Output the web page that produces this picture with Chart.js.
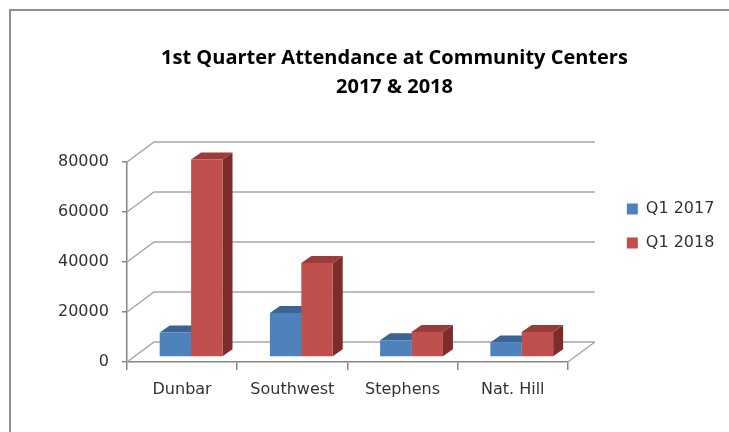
<!DOCTYPE html>
<html>
<head>
<meta charset="utf-8">
<script src="https://cdn.jsdelivr.net/npm/chart.js@4.4.1/dist/chart.umd.min.js"></script>
<style>
  html, body { margin: 0; padding: 0; background: #fff; overflow: hidden; }
  #wrap { position: relative; width: 729px; height: 432px; }
  #frame { position: absolute; left: 9px; top: 9px; width: 800px; height: 500px;
           border-top: 2px solid #8f8f8f; border-left: 2px solid #8f8f8f; }
  #c { position: absolute; left: 0; top: 0; }
</style>
</head>
<body>
<div id="wrap">
  <div id="frame"></div>
  <canvas id="c" width="729" height="432"></canvas>
</div>
<script>
(() => {
  'use strict';

  // === Datos ===
  const centers = ['Dunbar', 'Southwest', 'Stephens', 'Nat. Hill'];
  const q1_2017 = [9800, 17600, 6700, 5800];
  const q1_2018 = [79000, 37600, 10000, 10000];
  const seriesNames = ['Q1 2017', 'Q1 2018'];
  const titleLines = ['1st Quarter Attendance at Community Centers', '2017 & 2018'];
  const yMax = 80000, yStep = 20000;

  // colores (frente / tapa / lado)
  const FRONT = ['#4f81bd', '#c0504d'];
  const TOP   = ['#3b6494', '#9a3c39'];
  const SIDE  = ['#30527c', '#7c2d2b'];

  // efecto 3D (desplazamientos en px)
  const WALL  = { x: 27, y: -20 };   // pared del fondo
  const SHIFT = { x: 9,  y: -5 };    // plano de las barras
  const DEPTH = { x: 10, y: -7 };    // profundidad de cada barra
  const GRID  = '#a6a6a6';
  const AXIS  = '#868686';
  const TXT   = '#333333';
  const FONT  = { family: 'DejaVu Sans', size: 16 };

  const poly = (ctx, pts, fill) => {
    ctx.beginPath();
    ctx.moveTo(pts[0][0], pts[0][1]);
    for (let i = 1; i < pts.length; i++) ctx.lineTo(pts[i][0], pts[i][1]);
    ctx.closePath();
    ctx.fillStyle = fill;
    ctx.fill();
  };

  const fake3d = {
    id: 'fake3d',
    beforeDatasetsDraw(chart){
      const { ctx, chartArea: a } = chart;
      const y = chart.scales.y;

      // paredes: izquierda + fondo + piso
      ctx.save();
      ctx.strokeStyle = GRID;
      ctx.lineWidth = 1.5;
      ctx.beginPath();
      y.ticks.forEach(t => {
        const py = y.getPixelForValue(t.value);
        ctx.moveTo(a.left, py);
        ctx.lineTo(a.left + WALL.x, py + WALL.y);
        ctx.lineTo(a.right + WALL.x, py + WALL.y);
      });
      ctx.moveTo(a.right, a.bottom);
      ctx.lineTo(a.right + WALL.x, a.bottom + WALL.y);
      ctx.stroke();
      ctx.restore();

      // caras laterales y tapas; el frente lo dibuja Chart.js
      ctx.save();
      ctx.translate(SHIFT.x, SHIFT.y);
      chart.data.datasets.forEach((ds, i) => {
        const meta = chart.getDatasetMeta(i);
        meta.data.forEach(bar => {
          const { x, y: top, base, width } = bar.getProps(['x', 'y', 'base', 'width'], true);
          const l = x - width / 2, r = x + width / 2;
          poly(ctx, [[r, top], [r + DEPTH.x, top + DEPTH.y], [r + DEPTH.x, base + DEPTH.y], [r, base]], SIDE[i]);
          poly(ctx, [[l, top], [r, top], [r + DEPTH.x, top + DEPTH.y], [l + DEPTH.x, top + DEPTH.y]], TOP[i]);
        });
      });
      // se deja trasladado para los frentes
    },
    afterDatasetsDraw(chart){
      chart.ctx.restore();
    }
  };

  new Chart(document.getElementById('c').getContext('2d'), {
    type: 'bar',
    data: {
      labels: centers,
      datasets: [
        { label: seriesNames[0], data: q1_2017, backgroundColor: FRONT[0] },
        { label: seriesNames[1], data: q1_2018, backgroundColor: FRONT[1] }
      ]
    },
    options: {
      responsive: false,
      animation: false,
      devicePixelRatio: 1,
      layout: { padding: { left: 73, right: 13, top: 20, bottom: 0 } },
      datasets: { bar: { categoryPercentage: 0.57, barPercentage: 1.0, borderWidth: 0, clip: false } },
      plugins: {
        title: {
          display: true,
          text: titleLines,
          color: '#000',
          font: { family: 'Open Sans', size: 20, weight: 'bold', lineHeight: 1.45 },
          padding: { top: 24, bottom: 60 }
        },
        legend: {
          position: 'right',
          labels: { boxWidth: 11, boxHeight: 11, padding: 18, color: TXT, font: FONT }
        },
        tooltip: { enabled: false }
      },
      scales: {
        x: {
          grid: { display: true, drawOnChartArea: false, drawTicks: true, tickLength: 8, color: AXIS, lineWidth: 1.5 },
          border: { display: true, color: AXIS, width: 1.5 },
          ticks: { color: TXT, padding: 10, font: FONT },
          afterFit: s => { s.height = 70; }
        },
        y: {
          min: 0, max: yMax,
          grid: { display: true, drawOnChartArea: false, drawTicks: true, tickLength: 5, color: AXIS, lineWidth: 1.5 },
          border: { display: true, color: AXIS, width: 1.5 },
          // etiquetas espejadas + padding negativo: quedan a la izquierda del eje sin recorte
          ticks: { stepSize: yStep, color: TXT, mirror: true, crossAlign: 'far', padding: -69, font: FONT, callback: v => String(v) },
          afterFit: s => { s.width = 54; }
        },
        y2: {
          type: 'linear', position: 'right', display: true,
          grid: { display: false, drawTicks: false },
          ticks: { display: false },
          border: { display: false },
          afterFit: s => { s.width = 41; }
        }
      }
    },
    plugins: [fake3d]
  });
})();
</script>
</body>
</html>
